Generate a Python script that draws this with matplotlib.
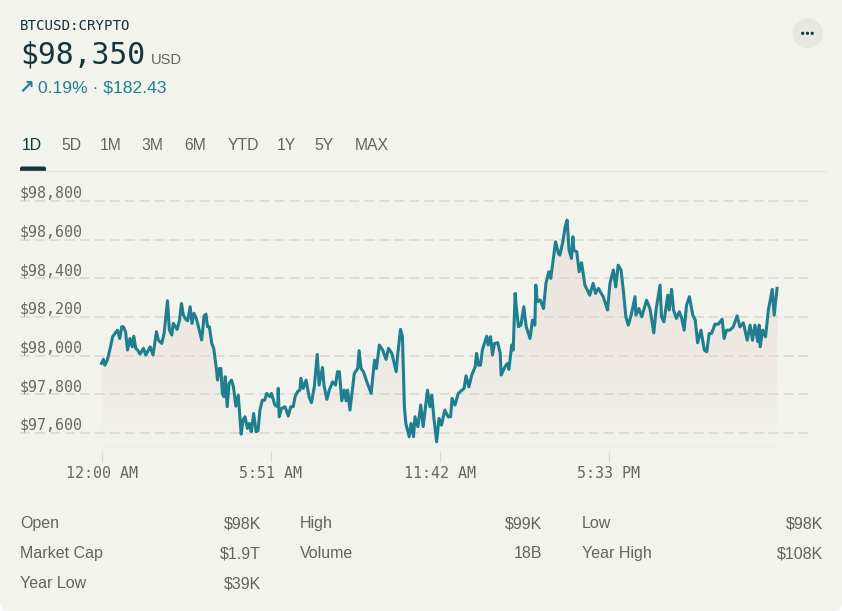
import numpy as np
import matplotlib
matplotlib.use("Agg")
import matplotlib.pyplot as plt
from matplotlib.colors import LinearSegmentedColormap
from matplotlib.patches import Circle, FancyBboxPatch, Rectangle

# minutes since midnight
minutes = [
    0, 4, 7, 12, 18, 23, 28, 33, 38, 42, 45, 50, 54, 59, 64, 67, 71, 75, 80, 87,
    92, 101, 107, 114, 118, 125, 130, 137, 141, 146, 149, 157, 162, 166, 170, 175, 179, 184, 188, 192,
    197, 208, 213, 217, 220, 224, 229, 233, 238, 241, 245, 248, 251, 254, 257, 261, 265, 270, 274, 279,
    284, 290, 294, 298, 303, 307, 311, 316, 321, 325, 329, 334, 339, 343, 350,
    353, 360, 366, 367, 369, 374, 381, 388, 393, 398, 402, 407, 412, 414, 419, 425, 431, 436, 442, 448,
    452, 459, 462, 468, 473, 480, 486, 490, 494, 499, 504, 508, 511, 516, 525, 532, 535, 539, 544, 551,
    560, 567, 571, 577, 584, 591, 596, 603, 612, 615, 621, 625, 629, 632, 639, 643, 648, 651, 657, 663,
    668, 677, 682, 686, 690, 696, 701, 706, 713, 720, 725, 728, 734, 741,
    753, 757, 763, 769, 776, 779, 783, 787, 791, 795, 800, 803, 808, 812, 816, 823, 828, 830, 838, 843,
    846, 852, 855, 859, 862, 866, 871, 877, 882, 890, 895, 900, 902, 905, 911, 918, 923, 929, 933, 938,
    943, 949, 952, 958, 963, 967, 971, 976, 979, 981, 987, 992, 997, 1004, 1009, 1014, 1021, 1026, 1032, 1042,
    1051, 1056, 1063, 1068, 1073, 1079, 1084, 1089, 1094, 1100, 1108, 1110, 1116, 1122, 1132, 1139, 1147, 1152, 1160, 1163,
    1168, 1176, 1179, 1184, 1188, 1194, 1200, 1205, 1210, 1215, 1221, 1228, 1233, 1238, 1245, 1252, 1257, 1262, 1267, 1274,
    1281, 1289, 1293, 1298, 1305, 1312, 1320, 1326, 1333, 1341, 1347, 1352, 1357, 1363, 1366, 1368, 1373, 1379, 1385, 1393,
    1397, 1403,
]
prices = [
    97960, 97981, 97951, 97977, 98038, 98098, 98115, 98132, 98089, 98150, 98150, 98124, 98029, 98089, 98046, 98101, 98038, 98029, 98008, 98038,
    98003, 98046, 98003, 98124, 98081, 98063, 98115, 98284, 98132, 98107, 98167, 98136, 98184, 98270, 98210, 98188, 98181, 98253, 98167, 98219,
    98193, 98081, 98205, 98215, 98150, 98150, 98063, 98038, 97943, 97874, 97934, 97934, 97805, 97788, 97891, 97736, 97857, 97874, 97839, 97739,
    97796, 97594, 97667, 97684, 97624, 97650, 97607, 97701, 97607, 97612, 97719, 97770, 97770, 97805, 97788,
    97805, 97745, 97736, 97831, 97684, 97727, 97736, 97688, 97736, 97736, 97788, 97814, 97822, 97883, 97831, 97874, 97788, 97757, 97840, 98007,
    97848, 97939, 97848, 97774, 97822, 97865, 97848, 97917, 97917, 97767, 97822, 97767, 97822, 97719, 97908, 97934, 98026, 97934, 97917, 97865,
    97805, 97977, 97934, 98055, 98029, 97981, 98038, 98012, 97917, 98003, 98136, 98098, 97736, 97650, 97581, 97650, 97581, 97684, 97633, 97745,
    97633, 97822, 97736, 97796, 97684, 97555, 97676, 97641, 97719, 97684, 97684, 97779, 97745, 97805,
    97831, 97896, 97839, 97900, 97943, 98012, 97951, 97951, 98029, 98063, 98101, 98055, 98098, 98003, 98063, 98067, 98012, 97900, 97943, 97960,
    97929, 98055, 98029, 98322, 98236, 98150, 98158, 98253, 98150, 98089, 98184, 98158, 98365, 98279, 98288, 98244, 98374, 98434, 98400, 98494,
    98589, 98529, 98520, 98589, 98667, 98701, 98546, 98503, 98615, 98546, 98537, 98434, 98481, 98365, 98339, 98313, 98374, 98322, 98348, 98305,
    98236, 98374, 98443, 98356, 98468, 98443, 98331, 98201, 98158, 98210, 98305, 98210, 98244, 98201, 98287, 98244, 98118, 98244, 98365, 98201,
    98175, 98313, 98236, 98343, 98236, 98193, 98227, 98193, 98132, 98262, 98305, 98210, 98184, 98067, 98132, 98029, 98020, 98115, 98115, 98163,
    98163, 98189, 98089, 98132, 98132, 98149, 98206, 98149, 98170, 98080, 98158, 98080, 98158, 98072, 98158, 98046, 98132, 98098, 98236, 98343,
    98210, 98348,
]
y_ticks = [97600, 97800, 98000, 98200, 98400, 98600, 98800]
y_tick_labels = ["$97,600", "$97,800", "$98,000", "$98,200", "$98,400", "$98,600", "$98,800"]
x_ticks = [0, 351, 702, 1053]
x_tick_labels = ["12:00 AM", "5:51 AM", "11:42 AM", "5:33 PM"]
periods = ["1D", "5D", "1M", "3M", "6M", "YTD", "1Y", "5Y", "MAX"]
period_x = [32, 71, 111, 152, 195, 243, 286, 324, 371.5]
stat_labels = ["Open", "High", "Low", "Market Cap", "Volume", "Year High", "Year Low"]
stat_values = ["$98K", "$99K", "$98K", "$1.9T", "18B", "$108K", "$39K"]

BG = "#F3F3EE"
DARK = "#13343B"
GREY = "#64645F"
TEAL = "#20808D"
MONO = "DejaVu Sans Mono"
SANS = "Liberation Sans"

W, H = 842, 611
fig = plt.figure(figsize=(W / 100, H / 100), dpi=100, facecolor="white")

# page layer in pixel coordinates, for the card and the header
page = fig.add_axes([0, 0, 1, 1], zorder=0)
page.set_xlim(0, W)
page.set_ylim(H, 0)
page.axis("off")
page.add_patch(FancyBboxPatch((0, -40), W, H + 40, boxstyle="round,pad=0,rounding_size=9",
                              fc=BG, ec="none"))

page.text(20, 30, "BTCUSD:CRYPTO", family=MONO, fontsize=10.2, color=DARK, va="baseline")
page.text(20, 64, "$98,350", family=MONO, fontsize=21.4, color=DARK, va="baseline")
page.text(151, 64, "USD", family=SANS, fontsize=10.6, color=GREY, va="baseline")
page.text(18.5, 93, "↗", family="DejaVu Sans", fontsize=13.5, color=TEAL, va="baseline", weight="bold")
page.text(38, 93, "0.19% · $182.43", family=SANS, fontsize=12.6, color=TEAL, va="baseline")

for i, p in enumerate(periods):
    page.text(period_x[i], 149.5, p, family=SANS, fontsize=11.3, ha="center", va="baseline",
              color=DARK if i == 0 else GREY)
page.plot([20, 825], [170.5, 170.5], color="#E6E6E1", lw=1)
page.add_patch(FancyBboxPatch((20, 166.5), 26, 6, boxstyle="round,pad=0,rounding_size=2", fc=DARK, ec="none"))
page.add_patch(Rectangle((18, 171), 30, 4, fc=BG, ec="none"))

page.add_patch(Circle((807.7, 33.3), 15, fc="#E8E8E3", ec="none"))
for dot_x in [802.7, 807.5, 812.2]:
    page.add_patch(Circle((dot_x, 33.3), 1.6, fc=DARK, ec="none"))

# stats table, three columns filled row by row
col_left = [20, 300, 582]
col_right = [261, 542, 823]
row_y = [528, 558, 588]
for i, (label, value) in enumerate(zip(stat_labels, stat_values)):
    row, col = divmod(i, 3)
    page.text(col_left[col], row_y[row], label, family=SANS, fontsize=11.5, color=GREY, va="baseline")
    page.text(col_right[col], row_y[row], value, family=SANS, fontsize=11.5, color=GREY, va="baseline", ha="right")

# chart axes: 20..811 px wide, 171..452 px high
ax = fig.add_axes([20 / W, 1 - 452 / H, (811 - 20) / W, (452 - 171) / H], zorder=1)
ax.patch.set_alpha(0)
for s in ax.spines.values():
    s.set_visible(False)

t = np.array(minutes)
v = np.array(prices)
y_bottom, y_top = 97502, 98955
x_left, x_right = -169.3, 1473.5

# gradient under the line, clipped to the area
area = ax.fill_between(t, v, y_bottom, color="none")
cmap = LinearSegmentedColormap.from_list(
    "area", [(0, BG), (0.3, "#EFEBE6"), (0.7, "#EDE5DF"), (1, "#ECE3DD")])
grad = ax.imshow(np.linspace(1, 0, 256).reshape(-1, 1), cmap=cmap, aspect="auto", vmin=0, vmax=1,
                 extent=[t[0], t[-1], y_bottom, v.max()], origin="upper", zorder=1)
grad.set_clip_path(area.get_paths()[0], transform=ax.transData)

ax.set_yticks(y_ticks)
ax.set_yticklabels([])
ax.tick_params(axis="y", length=0)
ax.grid(axis="y", color="#D8D8CF", lw=1.1, linestyle=(0, (6.5, 3.3)), zorder=2)
ax.set_axisbelow(False)
for tick, label in zip(y_ticks, y_tick_labels):
    ax.annotate(label, (0, tick), xycoords=ax.get_yaxis_transform(), xytext=(0, 2.2),
                textcoords="offset points", family=MONO, fontsize=10.8, color="#686863", va="baseline", zorder=5)

ax.plot(t, v, color="#1F7F8E", lw=2.2, solid_joinstyle="round", zorder=4)

ax.set_xticks(x_ticks)
ax.set_xticklabels(x_tick_labels, family=MONO, fontsize=10.8, color="#686863")
ax.tick_params(axis="x", length=7.2, width=0.8, color="#D9D9D4", pad=3)
ax.hlines(97527, t[0], t[-1], color="#EEEEE9", lw=0.8, zorder=1)

ax.set_xlim(x_left, x_right)
ax.set_ylim(y_bottom, y_top)

fig.savefig("out.png", dpi=100, facecolor=fig.get_facecolor())
